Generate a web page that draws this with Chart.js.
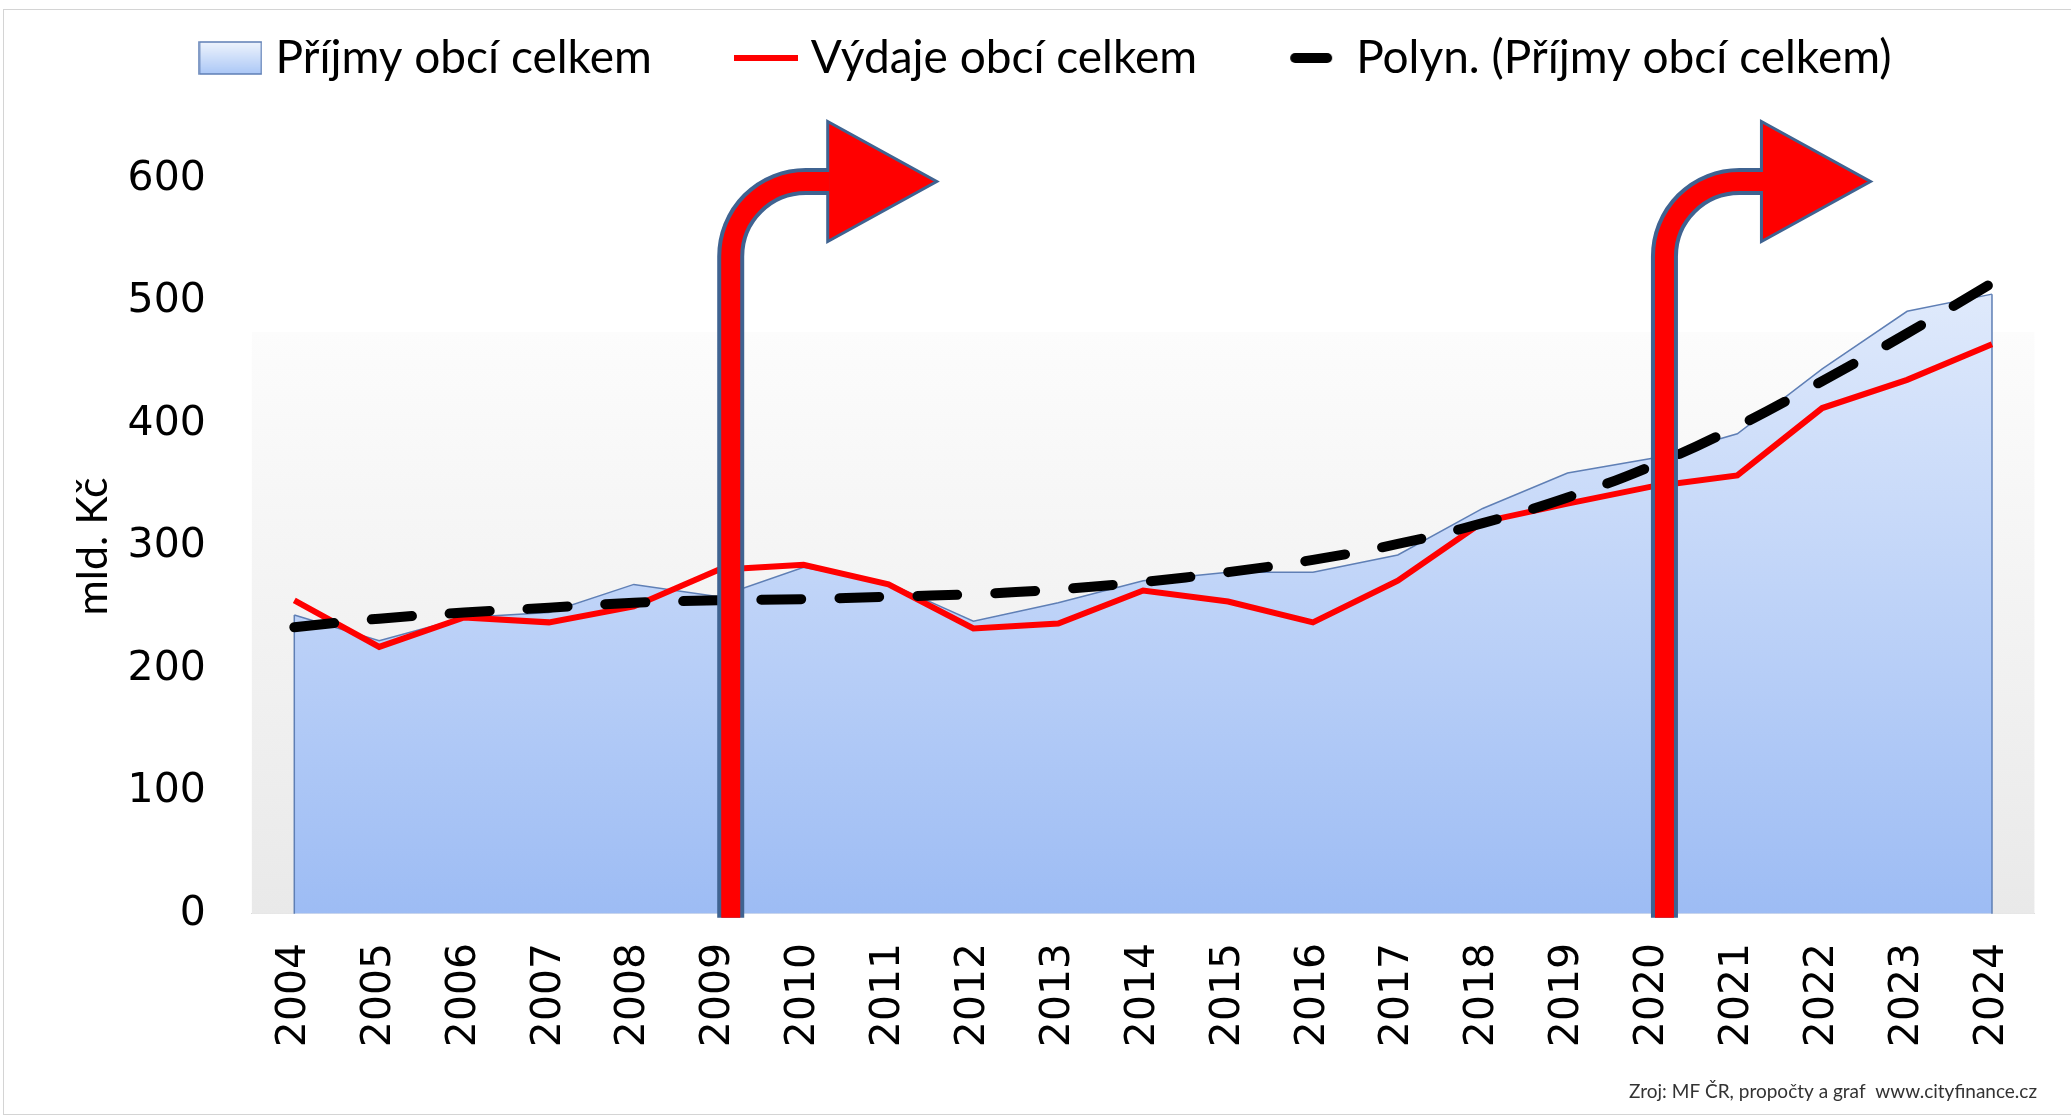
<!DOCTYPE html>
<html lang="cs">
<head>
<meta charset="utf-8">
<title>Příjmy a výdaje obcí</title>
<script src="https://cdn.jsdelivr.net/npm/chart.js@4.4.1/dist/chart.umd.min.js"></script>
<style>
  html, body { margin: 0; padding: 0; background: #fff; overflow: hidden; }
  #wrap { position: relative; width: 2071px; height: 1120px; overflow: hidden; }
  #frame { position: absolute; left: 3px; top: 9px; width: 2080px; height: 1106px;
           border: 1px solid #d4d4d4; box-sizing: border-box; }
  #chart { position: absolute; left: 0; top: -57px; }
</style>
</head>
<body>
<div id="wrap">
  <div id="frame"></div>
  <canvas id="chart" width="2071" height="1177"></canvas>
</div>
<script>
// data (mld. Kč)
const years = ['2004', '2005', '2006', '2007', '2008', '2009', '2010', '2011', '2012', '2013', '2014',
               '2015', '2016', '2017', '2018', '2019', '2020', '2021', '2022', '2023', '2024'];
const prijmy = [244, 223, 242, 246, 269, 259, 283, 270, 239, 254, 272, 279, 279, 293, 331, 360, 372, 392, 445, 492, 506];
const vydaje = [256, 218, 242, 238, 251, 281, 285, 269, 233, 237, 264, 255, 238, 272, 320, 335, 349, 358, 413, 436, 465];
const trend = [234, 241, 246, 250, 254, 256, 257, 259, 261, 265, 271, 279, 289, 302, 319, 340, 366, 398, 435, 474, 515];
const arrowYears = ['2009', '2020'];

const RED = '#ff0000';
const ARROW_EDGE = '#3f6391';
const AREA_LINE = '#5f7fb5';

// small canvases used as legend symbols
function symbol(w, h, draw) {
    const c = document.createElement('canvas');
    c.width = w; c.height = h;
    draw(c.getContext('2d'), w, h);
    return c;
}
const symArea = symbol(64, 34, (g, w, h) => {
    const grd = g.createLinearGradient(0, 0, 0, h);
    grd.addColorStop(0, '#f0f5fd');
    grd.addColorStop(1, '#a9c6f6');
    g.fillStyle = grd;
    g.fillRect(1, 1, w - 2, h - 2);
    g.strokeStyle = AREA_LINE;
    g.lineWidth = 1.5;
    g.strokeRect(1, 1, w - 2, h - 2);
});
const symLine = symbol(64, 8, (g, w, h) => {
    g.fillStyle = RED;
    g.fillRect(0, 1, w, 6);
});
const symDash = symbol(44, 12, (g, w, h) => {
    g.strokeStyle = '#000';
    g.lineWidth = 10;
    g.lineCap = 'round';
    g.beginPath();
    g.moveTo(6, 6);
    g.lineTo(w - 6, 6);
    g.stroke();
});

const plotBg = {
    id: 'plotBg',
    beforeDatasetsDraw(chart) {
        const {ctx, chartArea: a, scales: {y}} = chart;
        const top = y.getPixelForValue(475);
        const g = ctx.createLinearGradient(0, top, 0, a.bottom);
        g.addColorStop(0, '#fcfcfc');
        g.addColorStop(1, '#e9e9e9');
        ctx.save();
        ctx.fillStyle = g;
        ctx.fillRect(a.left, top, a.right - a.left, a.bottom - top);
        ctx.restore();
    }
};

// vertical edges of the income area
const areaEdges = {
    id: 'areaEdges',
    afterDatasetDraw(chart, args) {
        if (args.index !== 0) return;
        const pts = args.meta.data;
        const base = chart.scales.y.getPixelForValue(0);
        const ctx = chart.ctx;
        ctx.save();
        ctx.strokeStyle = AREA_LINE;
        ctx.lineWidth = 1.5;
        ctx.beginPath();
        [pts[0], pts[pts.length - 1]].forEach(p => {
            ctx.moveTo(p.x, p.y);
            ctx.lineTo(p.x, base);
        });
        ctx.stroke();
        ctx.restore();
    }
};

// the two bent "turn" arrows
const arrows = {
    id: 'arrows',
    afterDatasetsDraw(chart) {
        const {ctx, scales: {x, y}} = chart;
        arrowYears.forEach(yr => {
            const sx = x.getPixelForValue(years.indexOf(yr)) + 12;
            const yb = y.getPixelForValue(0) + 4;
            const ym = y.getPixelForValue(598);
            const R = 75, headBase = sx + 97, tip = sx + 206, half = 60;
            const path = () => {
                ctx.beginPath();
                ctx.moveTo(sx, yb);
                ctx.lineTo(sx, ym + R);
                ctx.arc(sx + R, ym + R, R, Math.PI, 1.5 * Math.PI);
                ctx.lineTo(headBase + 2, ym);
            };
            ctx.save();
            ctx.lineCap = 'butt';
            ctx.lineJoin = 'miter';
            path();
            ctx.strokeStyle = ARROW_EDGE;
            ctx.lineWidth = 27;
            ctx.stroke();
            ctx.beginPath();
            ctx.moveTo(headBase, ym - half);
            ctx.lineTo(tip, ym);
            ctx.lineTo(headBase, ym + half);
            ctx.closePath();
            ctx.fillStyle = RED;
            ctx.fill();
            ctx.lineWidth = 3;
            ctx.strokeStyle = ARROW_EDGE;
            ctx.stroke();
            path();
            ctx.strokeStyle = RED;
            ctx.lineWidth = 19;
            ctx.stroke();
            ctx.restore();
        });
    }
};

function drawChart() {
    const ctx = document.getElementById('chart').getContext('2d');
    new Chart(ctx, {
        type: 'line',
        data: {
            labels: years,
            datasets: [{
                label: 'Příjmy obcí celkem',
                data: prijmy,
                fill: 'origin',
                backgroundColor: (c) => {
                    const a = c.chart.chartArea;
                    if (!a) return '#c6d9f9';
                    const g = c.chart.ctx.createLinearGradient(0, a.top - 80, 0, a.bottom);
                    g.addColorStop(0, '#f4f8fe');
                    g.addColorStop(1, '#9dbcf4');
                    return g;
                },
                borderColor: AREA_LINE,
                borderWidth: 1.5,
                pointRadius: 0,
                tension: 0,
                order: 3
            }, {
                label: 'Výdaje obcí celkem',
                data: vydaje,
                borderColor: RED,
                borderWidth: 6,
                pointRadius: 0,
                tension: 0,
                fill: false,
                order: 2
            }, {
                label: 'Polyn. (Příjmy obcí celkem)',
                data: trend,
                borderColor: '#000',
                borderWidth: 10,
                borderDash: [40, 38],
                borderCapStyle: 'round',
                pointRadius: 0,
                tension: 0.4,
                fill: false,
                order: 1
            }]
        },
        options: {
            responsive: false,
            animation: false,
            devicePixelRatio: 1,
            layout: { padding: { left: 63, right: 34, top: 0, bottom: 0 } },
            plugins: {
                tooltip: { enabled: false },
                legend: {
                    position: 'top',
                    weight: 3000,
                    labels: {
                        usePointStyle: true,
                        pointStyleWidth: 44,
                        padding: 92,
                        color: '#000',
                        font: { family: 'Lato', size: 46 },
                        generateLabels: () => [
                            { text: 'Příjmy obcí celkem', pointStyle: symArea, datasetIndex: 0, lineWidth: 0 },
                            { text: 'Výdaje obcí celkem', pointStyle: symLine, datasetIndex: 1, lineWidth: 0 },
                            { text: 'Polyn. (Příjmy obcí celkem)', pointStyle: symDash, datasetIndex: 2, lineWidth: 0 }
                        ]
                    }
                },
                // empty title only used as a gap between legend and plot
                title: {
                    display: true,
                    text: '',
                    position: 'top',
                    weight: 2000,
                    font: { size: 10 },
                    padding: { top: 76, bottom: 0 }
                },
                subtitle: {
                    display: true,
                    text: 'Zroj: MF ČR, propočty a graf  www.cityfinance.cz',
                    position: 'bottom',
                    align: 'end',
                    color: '#333',
                    font: { family: 'Lato', size: 19, weight: 'normal' },
                    padding: { top: 4, bottom: 17 }
                }
            },
            scales: {
                x: {
                    offset: true,
                    grid: { display: false, drawTicks: false },
                    border: { display: true, color: '#d9d9d9' },
                    ticks: {
                        color: '#000',
                        font: { family: 'DejaVu Sans', size: 41 },
                        minRotation: 90,
                        maxRotation: 90,
                        autoSkip: false,
                        padding: 29
                    }
                },
                y: {
                    min: 0,
                    max: 600,
                    grid: { display: false, drawTicks: false },
                    border: { display: false },
                    ticks: {
                        stepSize: 100,
                        color: '#000',
                        font: { family: 'DejaVu Sans', size: 41 },
                        padding: 46
                    },
                    title: {
                        display: true,
                        text: 'mld. Kč',
                        color: '#000',
                        font: { family: 'Lato', size: 43 },
                        padding: { top: 4, bottom: -37 }
                    }
                }
            }
        },
        plugins: [plotBg, areaEdges, arrows]
    });
}

Promise.all([
    document.fonts.load('46px Lato'),
    document.fonts.load('41px "DejaVu Sans"')
]).then(drawChart, drawChart);
</script>
</body>
</html>
